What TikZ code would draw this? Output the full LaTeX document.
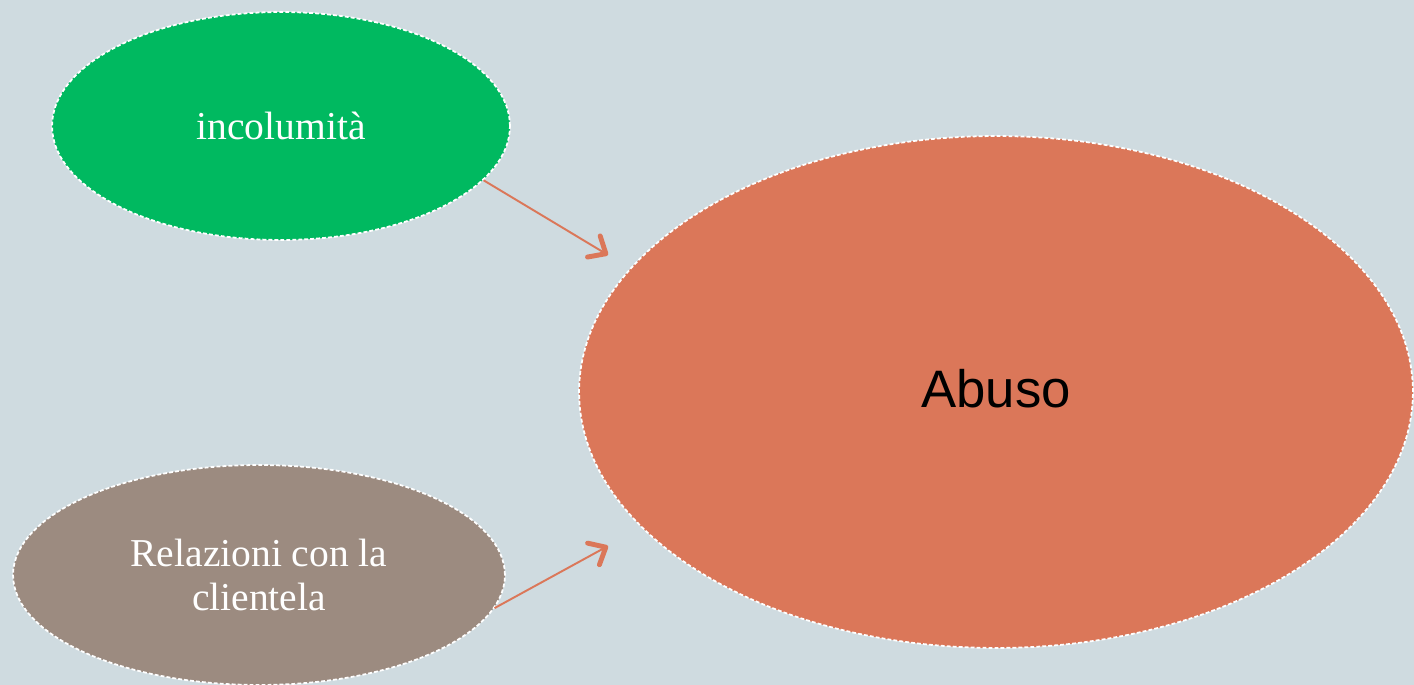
\documentclass[tikz,border=0pt]{standalone}
\usepackage{fontspec}
\setmainfont{Liberation Serif}
\newfontfamily\abusofont{Liberation Sans}
\usepackage{tikz}
\usetikzlibrary{shapes.geometric}
\usetikzlibrary{arrows.meta}

\definecolor{sfondo}{HTML}{CFDBE0}
\definecolor{verde}{HTML}{00B960}
\definecolor{grigiobruno}{HTML}{9C8B80}
\definecolor{arancio}{HTML}{DB7759}

\tikzset{
    bolla/.style={ellipse, draw=white, line width=1pt, dash pattern=on 2.2pt off 1.2pt, inner sep=0pt, text=white, align=center, font=\fontsize{22.5}{22}\selectfont},
    freccia/.style={draw=arancio, line width=1.1pt, -{Straight Barb[length=8pt, width=14pt, line width=2.8pt, round]}}
}

\begin{document}
\begin{tikzpicture}[x=0.02cm, y=-0.02cm]
                \fill[sfondo](0,0) rectangle (1414,685);
                \useasboundingbox (0,0) rectangle (1414,685);
                \begin{scope}
                \clip (0,0) rectangle (1414,685);
                \node[bolla, fill=verde, minimum width=9.16cm, minimum height=4.56cm](incolumita) at (281,126){incolumità};
                \node[bolla, fill=grigiobruno, minimum width=9.84cm, minimum height=4.4cm](relazioni) at (259,575){\raisebox{3pt}{Relazioni con la}\\clientela};
                \node[bolla, fill=arancio, text=black, minimum width=16.68cm, minimum height=10.24cm, font=\abusofont\fontsize{30}{32}\selectfont](abuso) at (996,392){\raisebox{4pt}{Abuso}};
                \end{scope}
                \coordinate (puntaalta) at (608,255);
                \coordinate (puntabassa) at (608,546);
                \draw[freccia](incolumita.-15)--(puntaalta);
                \draw[freccia](relazioni.-8)--(puntabassa);
            \end{tikzpicture}
\end{document}
